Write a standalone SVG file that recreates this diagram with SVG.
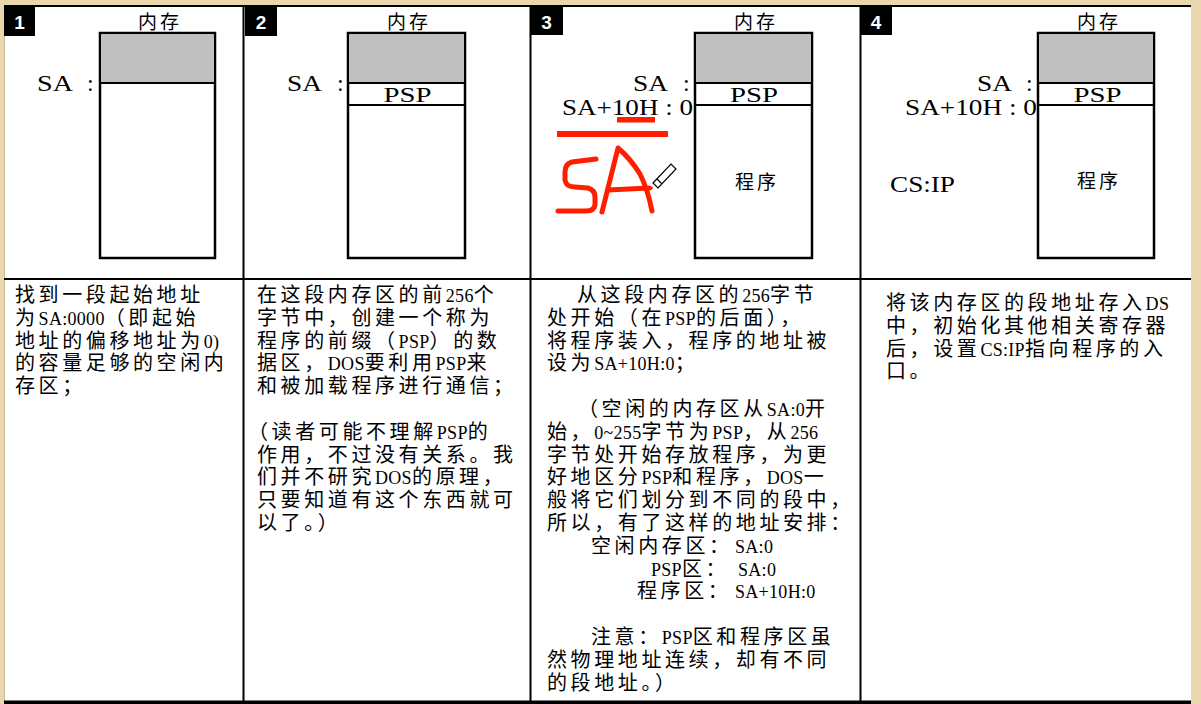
<svg xmlns="http://www.w3.org/2000/svg" width="1201" height="704" viewBox="0 0 1201 704">
<style>
.cj{font-family:"Liberation Sans","Noto Sans CJK SC",sans-serif;font-size:20px;letter-spacing:3.6px;fill:#000}
.l{font-family:"Liberation Serif",serif;font-size:18px;letter-spacing:0.3px}
.hd{font-family:"Liberation Sans","Noto Sans CJK SC",sans-serif;font-size:19px;letter-spacing:3px;fill:#000;text-anchor:middle}
.sr{font-family:"Liberation Serif",serif;font-size:24px;fill:#000}
.psp{font-family:"Liberation Serif",serif;font-size:22px;fill:#000;text-anchor:middle}
.num{font-family:"Liberation Sans",sans-serif;font-weight:bold;font-size:19px;fill:#fff;text-anchor:middle}
.mem{fill:#fff;stroke:#000;stroke-width:2.5}
.grey{fill:#c0c0c0}
.ln{stroke:#000;stroke-width:2}
.div{stroke:#000;stroke-width:2}
.red{fill:none;stroke:#ff1e00;stroke-width:5;stroke-linecap:round;stroke-linejoin:round}
</style>
<rect x="0" y="0" width="1201" height="704" fill="#ebd7ae"/>
<rect x="4" y="6" width="1187" height="696" fill="#fff"/>
<g id="frame">
<line x1="4.5" y1="6" x2="4.5" y2="701" stroke="#c9b890" stroke-width="1"/>
<line x1="4" y1="6" x2="1191" y2="6" class="div"/>
<line x1="4" y1="279" x2="1191" y2="279" class="div" stroke-width="2.5"/>
<rect x="4" y="700.5" width="1187" height="3.5" fill="#000"/>
<line x1="243.5" y1="6" x2="243.5" y2="701" class="div"/>
<line x1="530.5" y1="6" x2="530.5" y2="701" class="div"/>
<line x1="860.5" y1="6" x2="860.5" y2="701" class="div"/>
</g>
<g id="connectors"></g>

<g id="panel1">
<rect x="4" y="7" width="31" height="29" fill="#000"/>
<text class="num" x="19.5" y="29">1</text>
<text class="hd" x="160" y="29">内存</text>
<rect x="100" y="33" width="115" height="225" class="mem"/>
<rect x="101.25" y="34.25" width="112.5" height="48.75" class="grey"/>
<line x1="100" y1="83" x2="215" y2="83" class="ln"/>
<text class="sr" x="37" y="91" textLength="36" lengthAdjust="spacingAndGlyphs">SA</text>
<text class="sr" x="87" y="91">:</text>
<text class="cj" x="15" y="302">找到一段起始地址</text>
<text class="cj" x="15" y="324.8">为<tspan class="l">SA:0000</tspan>（即起始</text>
<text class="cj" x="15" y="347.6">地址的偏移地址为<tspan class="l">0)</tspan></text>
<text class="cj" x="15" y="370.4">的容量足够的空闲内</text>
<text class="cj" x="15" y="393.2">存区；</text>
</g>

<g id="panel2">
<rect x="245" y="7" width="32" height="29" fill="#000"/>
<text class="num" x="261" y="29">2</text>
<text class="hd" x="409" y="29">内存</text>
<rect x="348" y="33" width="117" height="225" class="mem"/>
<rect x="349.25" y="34.25" width="114.5" height="48.75" class="grey"/>
<line x1="348" y1="83" x2="465" y2="83" class="ln"/>
<line x1="348" y1="105" x2="465" y2="105" class="ln"/>
<text class="psp" x="407.5" y="102" textLength="48" lengthAdjust="spacingAndGlyphs">PSP</text>
<text class="sr" x="287" y="91" textLength="35" lengthAdjust="spacingAndGlyphs">SA</text>
<text class="sr" x="337" y="91">:</text>
<text class="cj" x="257" y="302">在这段内存区的前<tspan class="l">256</tspan>个</text>
<text class="cj" x="257" y="324.8">字节中，创建一个称为</text>
<text class="cj" x="257" y="347.6">程序的前缀（<tspan class="l">PSP</tspan>）的数</text>
<text class="cj" x="257" y="370.4">据区，<tspan class="l">DOS</tspan>要利用<tspan class="l">PSP</tspan>来</text>
<text class="cj" x="257" y="393.2">和被加载程序进行通信；</text>
<text class="cj" x="248" y="438.8">（读者可能不理解<tspan class="l">PSP</tspan>的</text>
<text class="cj" x="257" y="461.6">作用，不过没有关系。我</text>
<text class="cj" x="257" y="484.4">们并不研究<tspan class="l">DOS</tspan>的原理，</text>
<text class="cj" x="257" y="507.2">只要知道有这个东西就可</text>
<text class="cj" x="257" y="530">以了。）</text>
</g>

<g id="panel3">
<rect x="530" y="7" width="33" height="28" fill="#000"/>
<text class="num" x="546.5" y="29">3</text>
<text class="hd" x="756" y="29">内存</text>
<rect x="695" y="33" width="117" height="225" class="mem"/>
<rect x="696.25" y="34.25" width="114.5" height="48.75" class="grey"/>
<line x1="695" y1="83" x2="812" y2="83" class="ln"/>
<line x1="695" y1="105" x2="812" y2="105" class="ln"/>
<text class="psp" x="754" y="102" textLength="48" lengthAdjust="spacingAndGlyphs">PSP</text>
<text class="hd" x="757" y="189" font-size="20">程序</text>
<text class="sr" x="633" y="91" textLength="35" lengthAdjust="spacingAndGlyphs">SA</text>
<text class="sr" x="683" y="91">:</text>
<text class="sr" x="562" y="115" textLength="131" lengthAdjust="spacingAndGlyphs">SA+10H : 0</text>
<text class="cj" x="577" y="302">从这段内存区的<tspan class="l">256</tspan>字节</text>
<text class="cj" x="547" y="324.8">处开始（在<tspan class="l">PSP</tspan>的后面），</text>
<text class="cj" x="547" y="347.6">将程序装入，程序的地址被</text>
<text class="cj" x="547" y="370.4">设为<tspan class="l">SA+10H:0</tspan>；</text>
<text class="cj" x="578" y="416">（空闲的内存区从<tspan class="l">SA:0</tspan>开</text>
<text class="cj" x="547" y="438.8">始，<tspan class="l">0~255</tspan>字节为<tspan class="l">PSP</tspan>，从<tspan class="l">256</tspan></text>
<text class="cj" x="547" y="461.6">字节处开始存放程序，为更</text>
<text class="cj" x="547" y="484.4">好地区分<tspan class="l">PSP</tspan>和程序，<tspan class="l">DOS</tspan>一</text>
<text class="cj" x="547" y="507.2">般将它们划分到不同的段中，</text>
<text class="cj" x="547" y="530">所以，有了这样的地址安排：</text>
<text class="cj" x="591" y="552.8">空闲内存区：</text>
<text class="cj" x="651" y="575.6"><tspan class="l">PSP</tspan>区：</text>
<text class="cj" x="637" y="598.4">程序区：</text>
<text class="cj" x="735" y="552.8"><tspan class="l">SA:0</tspan></text>
<text class="cj" x="738" y="575.6"><tspan class="l">SA:0</tspan></text>
<text class="cj" x="735" y="598.4"><tspan class="l">SA+10H:0</tspan></text>
<text class="cj" x="591" y="644">注意：<tspan class="l">PSP</tspan>区和程序区虽</text>
<text class="cj" x="547" y="666.8">然物理地址连续，却有不同</text>
<text class="cj" x="547" y="689.6">的段地址。）</text>
<g id="annotation">
<rect x="557" y="131" width="111" height="6" fill="#ff1e00"/>
<rect x="617" y="117" width="38" height="5.5" fill="#ff1e00"/>
<path class="red" d="M596 159 L572 162 Q565 164 565 172 L565 180 Q566 187 575 187 L588 188 Q595 190 595 197 L595 205 Q594 211 586 211 L558 211"/>
<path class="red" d="M602 212 L618 148 Q630 158 640 174 Q648 190 652 211"/>
<path class="red" d="M608 190 L649 188"/>
<g stroke="#000" stroke-width="1.2" fill="#fff">
<polygon points="653,183 671,164 676,169 658,188"/>
<line x1="657" y1="179" x2="662" y2="184"/>
</g>
<circle cx="651" cy="188" r="1.8" fill="#ff1e00"/>
</g>
</g>

<g id="panel4">
<rect x="860" y="7" width="32" height="28" fill="#000"/>
<text class="num" x="876" y="29">4</text>
<text class="hd" x="1099" y="29">内存</text>
<rect x="1038" y="33" width="116" height="225" class="mem"/>
<rect x="1039.25" y="34.25" width="113.5" height="48.75" class="grey"/>
<line x1="1038" y1="83" x2="1154" y2="83" class="ln"/>
<line x1="1038" y1="105" x2="1154" y2="105" class="ln"/>
<text class="psp" x="1097.5" y="102" textLength="48" lengthAdjust="spacingAndGlyphs">PSP</text>
<text class="hd" x="1099" y="188" font-size="20">程序</text>
<text class="sr" x="977" y="91" textLength="35" lengthAdjust="spacingAndGlyphs">SA</text>
<text class="sr" x="1026" y="91">:</text>
<text class="sr" x="905" y="115" textLength="132" lengthAdjust="spacingAndGlyphs">SA+10H : 0</text>
<text class="sr" x="890" y="192" font-size="22" textLength="65" lengthAdjust="spacingAndGlyphs">CS:IP</text>
<text class="cj" x="886" y="310">将该内存区的段地址存入<tspan class="l">DS</tspan></text>
<text class="cj" x="886" y="332.8">中，初始化其他相关寄存器</text>
<text class="cj" x="886" y="355.6">后，设置<tspan class="l">CS:IP</tspan>指向程序的入</text>
<text class="cj" x="886" y="378.4">口。</text>
</g>
</svg>
